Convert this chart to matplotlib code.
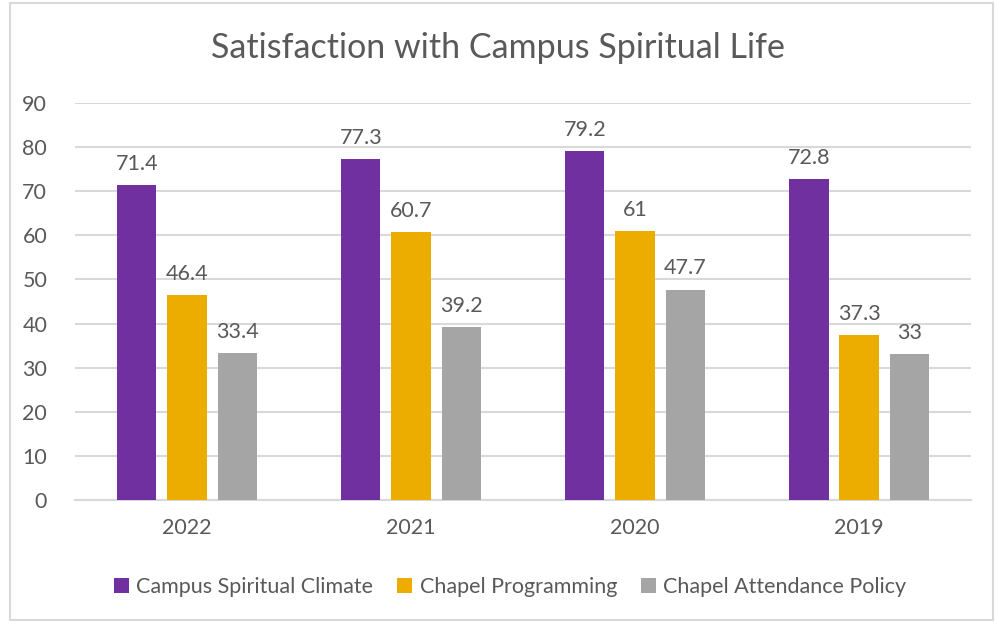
#!/usr/bin/env python3
"""
Satisfaction with Campus Spiritual Life - clustered bar chart
"""
import matplotlib
matplotlib.use('Agg')
import matplotlib.pyplot as plt
import matplotlib.patches as mpatches
import numpy as np

plt.rcParams['font.family'] = ['Lato', 'DejaVu Sans']
plt.rcParams['font.size'] = 15.5

TEXT = '#595959'
GRID = '#D9D9D9'

years = ['2022', '2021', '2020', '2019']
series_names = ['Campus Spiritual Climate', 'Chapel Programming', 'Chapel Attendance Policy']
climate = [71.4, 77.3, 79.2, 72.8]
programming = [46.4, 60.7, 61, 37.3]
attendance = [33.4, 39.2, 47.7, 33]
colors = ['#7030A0', '#EDAD00', '#A5A5A5']


def main():
    fig = plt.figure(figsize=(9.96, 6.23), dpi=100)
    ax = fig.add_axes([0.0753, 0.1974, 0.8997, 0.6373])

    # 外枠
    fig.patches.append(mpatches.Rectangle((10 / 996, 3 / 623), 983 / 996, 617 / 623,
                                          transform=fig.transFigure, fill=False,
                                          edgecolor=GRID, linewidth=1.5))

    x = np.arange(len(years))
    width = 0.175
    offsets = [-0.224, 0, 0.224]
    data = [climate, programming, attendance]

    for vals, off, col, name in zip(data, offsets, colors, series_names):
        bars = ax.bar(x + off, vals, width, color=col, label=name, zorder=3)
        for b, v in zip(bars, vals):
            ax.annotate(f'{v:g}', (b.get_x() + b.get_width() / 2, v),
                        xytext=(0, 8), textcoords='offset points',
                        ha='center', va='bottom', color=TEXT, fontsize=15.5)

    ax.set_xlim(-0.5, len(years) - 0.5)
    ax.set_ylim(0, 90)
    ax.set_yticks(np.arange(0, 91, 10))
    ax.set_xticks(x)
    ax.set_xticklabels(years)
    ax.yaxis.grid(True, color=GRID, linewidth=1.5, zorder=0)
    ax.set_axisbelow(True)
    for s in ['top', 'right', 'left']:
        ax.spines[s].set_visible(False)
    ax.spines['bottom'].set_color(GRID)
    ax.spines['bottom'].set_linewidth(1.5)
    ax.tick_params(axis='both', length=0, colors=TEXT, labelsize=15.5)
    ax.tick_params(axis='x', pad=13)
    ax.tick_params(axis='y', pad=20)

    fig.text(0.5, 1 - 48 / 623, 'Satisfaction with Campus Spiritual Life',
             ha='center', va='center', fontsize=24.5, color=TEXT)

    fig.legend(loc='center', bbox_to_anchor=(0.512, 1 - 587 / 623), ncol=3,
               frameon=False, handlelength=0.7, handleheight=0.7,
               handletextpad=0.35, columnspacing=1.1, fontsize=15.5,
               labelcolor=TEXT)

    fig.savefig('out.png', dpi=100)
    plt.close(fig)


if __name__ == '__main__':
    main()
